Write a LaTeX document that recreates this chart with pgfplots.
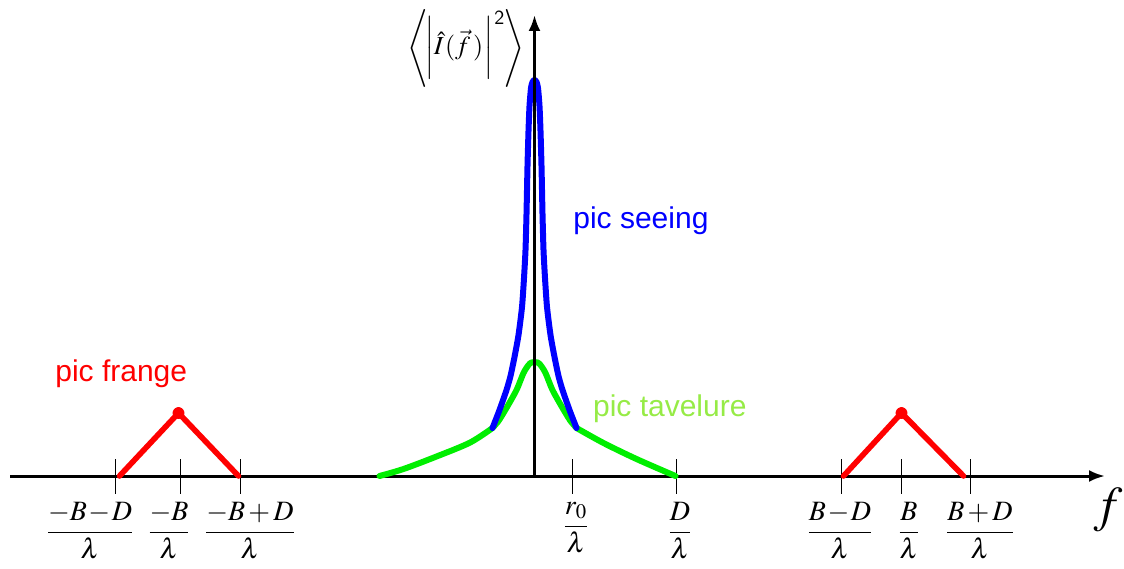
\documentclass[border=0pt]{standalone}
\usepackage{mathptmx}
\usepackage[no-math]{fontspec}
\setmainfont{Liberation Sans}
\usepackage{pgfplots}
\pgfplotsset{compat=1.18}
\usetikzlibrary{arrows.meta}

\definecolor{seeing}{RGB}{0,0,255}
\definecolor{tavel}{RGB}{0,238,0}
\definecolor{taveltext}{RGB}{150,235,70}
\definecolor{frange}{RGB}{255,0,0}

\newcommand{\mm}{\mkern1mu{-}\mkern1mu}
\newcommand{\pp}{\mkern2mu{+}\mkern2mu}

\tikzset{
    fraclab/.style={anchor=north, inner sep=0pt, font=\fontsize{14}{17}\selectfont},
    txt/.style={anchor=base west, inner sep=0pt, font=\fontsize{15}{18}\selectfont},
}

\begin{document}
\begin{tikzpicture}
\begin{axis}[
    x=0.5pt, y=0.5pt,
    xmin=-524.5, xmax=570.5,
    ymin=0, ymax=461,
    axis lines=middle,
    axis line style={line width=1.5pt, -{Latex[length=8pt,width=6pt]}},
    ytick=\empty,
    xtick={-419.5,-354.5,-294.5,38.2,142.2,306.5,367.2,435.5},
    xticklabels={},
    xtick align=center,
    major tick length=17.5pt,
    tick style={black, line width=0.5pt},
    clip=false,
]
% pic tavelure (green)
\addplot[tavel, line width=3pt, line cap=round, smooth, tension=0.5]
    coordinates {(-155,0) (-131,7) (-98,19.5) (-64.5,33.4) (-42,48)};
\addplot[tavel, line width=3pt, line cap=round, smooth, tension=0.5]
    coordinates {(42,48) (69,33) (102,17) (141,0)};
\addplot[tavel, line width=3pt, line cap=round, smooth, tension=0.5]
    coordinates {(-42,48) (-36,55) (-31,63) (-24,75) (-17.5,87) (-11,103)
                 (-6,111) (-3,113.5) (0,114) (3,113.5) (6,111) (11,103)
                 (17.5,87) (24,75) (31,63) (36,55) (42,48)};
% pic seeing (blue)
\addplot[seeing, line width=3pt, line cap=round, smooth, tension=0.4]
    coordinates {(-42,48) (-35,66) (-28,86) (-24,100) (-20,119) (-16,141)
                 (-12.5,169) (-10.5,198) (-9,226) (-8,262) (-7,310) (-6,345)
                 (-5,370) (-3.5,388) (-2,394) (0,396) (2,394) (3.5,388)
                 (5,370) (6,345) (7,310) (8,262) (9,226) (10.5,198)
                 (12.5,169) (16,141) (20,119) (24,100) (28,86) (35,66) (42,48)};
% y axis line over the peaks
\addplot[black, line width=1.5pt] coordinates {(0,0) (0,430)};
% pics frange (red)
\addplot[frange, line width=2.8pt, line cap=round, line join=round,
         mark=*, mark size=1.6pt, mark indices={2}, mark options={fill=frange, draw=frange}]
    coordinates {(-415,0) (-356,63) (-296,0)};
\addplot[frange, line width=2.8pt, line cap=round, line join=round,
         mark=*, mark size=1.6pt, mark indices={2}, mark options={fill=frange, draw=frange}]
    coordinates {(309,0) (367,63) (429,0)};

% tick labels
\node[fraclab] at (axis cs:-444.5,-26) {$\displaystyle\frac{-B\mm D}{\lambda}$};
\node[fraclab] at (axis cs:-365.5,-26) {$\displaystyle\frac{-B}{\lambda}$};
\node[fraclab] at (axis cs:-284.5,-26) {$\displaystyle\frac{-B\pp D}{\lambda}$};
\node[fraclab] at (axis cs:41.5,-26) {$\displaystyle\frac{r_0}{\lambda}$};
\node[fraclab] at (axis cs:145.5,-26) {$\displaystyle\frac{D}{\lambda}$};
\node[fraclab] at (axis cs:305.5,-26) {$\displaystyle\frac{B\mm D}{\lambda}$};
\node[fraclab] at (axis cs:374.5,-26) {$\displaystyle\frac{B}{\lambda}$};
\node[fraclab] at (axis cs:445.5,-26) {$\displaystyle\frac{B\pp D}{\lambda}$};

\node[txt, text=seeing] at (axis cs:38.5,248) {pic seeing};
\node[txt, text=frange] at (axis cs:-479.5,94.3) {pic frange};
\node[txt, text=taveltext] at (axis cs:58.2,59.3) {pic tavelure};
\node[inner sep=0pt, font=\fontsize{13}{16}\selectfont] at (axis cs:-68.5,428)
    {$\Bigg\langle\mkern-2mu\bigg|\hat{I}\mkern1mu(\vec{f}\,)\mkern1mu\bigg|^{\mkern1mu\mathsf{2}}\mkern-1mu\Bigg\rangle$};
\node[font=\fontsize{25}{30}\selectfont] at (axis cs:573.5,-34) {$f$};

\coordinate (bl) at (axis cs:-534.5,-92);
\coordinate (tr) at (axis cs:589.5,476);
\end{axis}
\pgfresetboundingbox
\path[use as bounding box] (bl) rectangle (tr);
\end{tikzpicture}
\end{document}
